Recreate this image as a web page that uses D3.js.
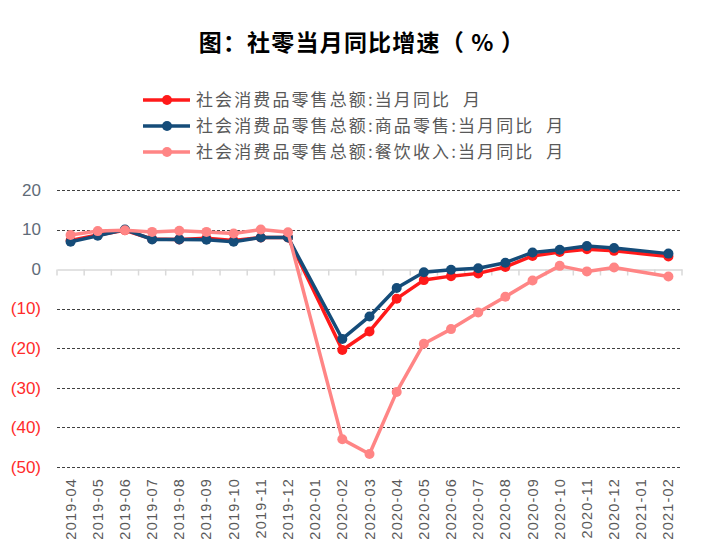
<!DOCTYPE html>
<html><head><meta charset="utf-8">
<script src="https://cdn.jsdelivr.net/npm/d3@7"></script>
<style>
body{margin:0;background:#fff;}
svg{display:block;font-family:Arial,"Liberation Sans","Noto Sans CJK SC",sans-serif;}
</style></head>
<body>
<svg id="chart" width="708" height="556"></svg>
<script>
const categories = ['2019-04','2019-05','2019-06','2019-07','2019-08','2019-09','2019-10','2019-11','2019-12','2020-01','2020-02','2020-03','2020-04','2020-05','2020-06','2020-07','2020-08','2020-09','2020-10','2020-11','2020-12','2021-01','2021-02'];
const totalValues = [7.2,8.6,9.8,7.6,7.5,7.8,7.2,8.0,8.0,null,-20.5,-15.8,-7.5,-2.8,-1.8,-1.1,0.5,3.3,4.3,5.0,4.6,null,3.2];
const goodsValues = [6.9,8.4,10.0,7.5,7.5,7.4,6.9,8.0,8.0,null,-17.7,-12.0,-4.8,-0.8,-0.2,0.2,1.6,4.2,4.9,5.8,5.3,null,3.9];
const cateringValues = [8.6,9.6,9.8,9.4,9.7,9.4,9.0,10.0,9.3,null,-43.1,-46.8,-31.1,-18.9,-15.2,-11.0,-7.0,-2.9,0.8,-0.6,0.4,null,-1.9];
const yTicks = [20,10,0,-10,-20,-30,-40,-50];
const seriesNames = ['社会消费品零售总额:当月同比  月','社会消费品零售总额:商品零售:当月同比  月','社会消费品零售总额:餐饮收入:当月同比  月'];
const seriesColors = ['#ff1a1a','#154c79','#ff8585'];
const titleText = '图：社零当月同比增速（ % ）';

const svg = d3.select('#chart');
const x = d3.scaleBand().domain(categories).range([57, 682]);
const y = d3.scaleLinear().domain([-50, 20]).range([466.6, 190]);

// title
svg.append('text').attr('x', 362).attr('y', 51).attr('text-anchor','middle')
  .attr('font-size', 23).attr('font-weight','bold').attr('fill','#000')
  .attr('font-family','"Noto Sans CJK SC",sans-serif').attr('letter-spacing', 1.2)
  .attr('xml:space','preserve').style('white-space','pre')
  .text(titleText);

// gridlines
const gridTicks = yTicks.filter(d => d !== 0);
svg.append('g').selectAll('line').data(gridTicks).join('line')
  .attr('x1', 57).attr('x2', 682)
  .attr('y1', d => Math.round(y(d)) + 0.5).attr('y2', d => Math.round(y(d)) + 0.5)
  .attr('stroke', '#404040').attr('stroke-width', 1).attr('stroke-dasharray','3,2');

// zero axis with ticks
const xAxis = d3.axisBottom(x).tickSize(0).tickFormat('');
const gx = svg.append('g').attr('transform', `translate(0,${Math.round(y(0))+0.5})`).call(xAxis);
gx.select('.domain').attr('stroke','#d9d9d9').attr('stroke-width',1.5);
gx.selectAll('line.bt').data(d3.range(categories.length+1)).join('line')
  .attr('x1', i => x.range()[0] + i*x.bandwidth()).attr('x2', i => x.range()[0] + i*x.bandwidth())
  .attr('y1', 0).attr('y2', 6).attr('stroke','#d9d9d9').attr('stroke-width',1.5);

// y labels
const yAxis = d3.axisLeft(y).tickValues(yTicks).tickSize(0)
  .tickFormat(d => d < 0 ? `(${-d})` : `${d}`);
const gy = svg.append('g').attr('transform','translate(46,0)').call(yAxis);
gy.select('.domain').remove();
gy.selectAll('text').attr('font-size', 17).attr('font-family','Arial,"Liberation Sans",sans-serif')
  .attr('fill', d => d < 0 ? '#ff2b2b' : '#5f6b78').attr('dx', -2);

// x labels
const xl = svg.append('g');
xl.selectAll('text').data(categories).join('text')
  .attr('transform', d => `translate(${x(d)+x.bandwidth()/2+5},478) rotate(-90)`)
  .attr('text-anchor','end').attr('font-size', 14.5)
  .attr('font-family','Arial,"Liberation Sans",sans-serif')
  .attr('letter-spacing', 1.2)
  .attr('fill','#595959').text(d => d);

// series
const allSeries = [totalValues, goodsValues, cateringValues];
const line = d3.line()
  .x(d => x(d.c) + x.bandwidth()/2).y(d => y(d.v));
allSeries.forEach((vals, si) => {
  const pts = categories.map((c,i) => ({c, v: vals[i]})).filter(d => d.v !== null);
  const g = svg.append('g');
  g.append('path').datum(pts).attr('d', line).attr('fill','none')
    .attr('stroke', seriesColors[si]).attr('stroke-width', 3.5).attr('stroke-linejoin','round');
  g.selectAll('circle').data(pts).join('circle')
    .attr('cx', d => x(d.c) + x.bandwidth()/2).attr('cy', d => y(d.v)).attr('r', 5)
    .attr('fill', seriesColors[si]);
});

// legend
const lg = svg.append('g');
seriesNames.forEach((name, i) => {
  const ly = 100 + i*26;
  lg.append('line').attr('x1', 143).attr('x2', 190).attr('y1', ly).attr('y2', ly)
    .attr('stroke', seriesColors[i]).attr('stroke-width', 3.5);
  lg.append('circle').attr('cx', 167).attr('cy', ly).attr('r', 5).attr('fill', seriesColors[i]);
  lg.append('text').attr('x', 196).attr('y', ly + 6).attr('font-size', 17)
    .attr('font-family','"Noto Sans CJK SC",sans-serif').attr('letter-spacing', 2.1)
    .attr('fill','#595959').attr('xml:space','preserve').style('white-space','pre').text(name);
});
</script>
</body></html>
